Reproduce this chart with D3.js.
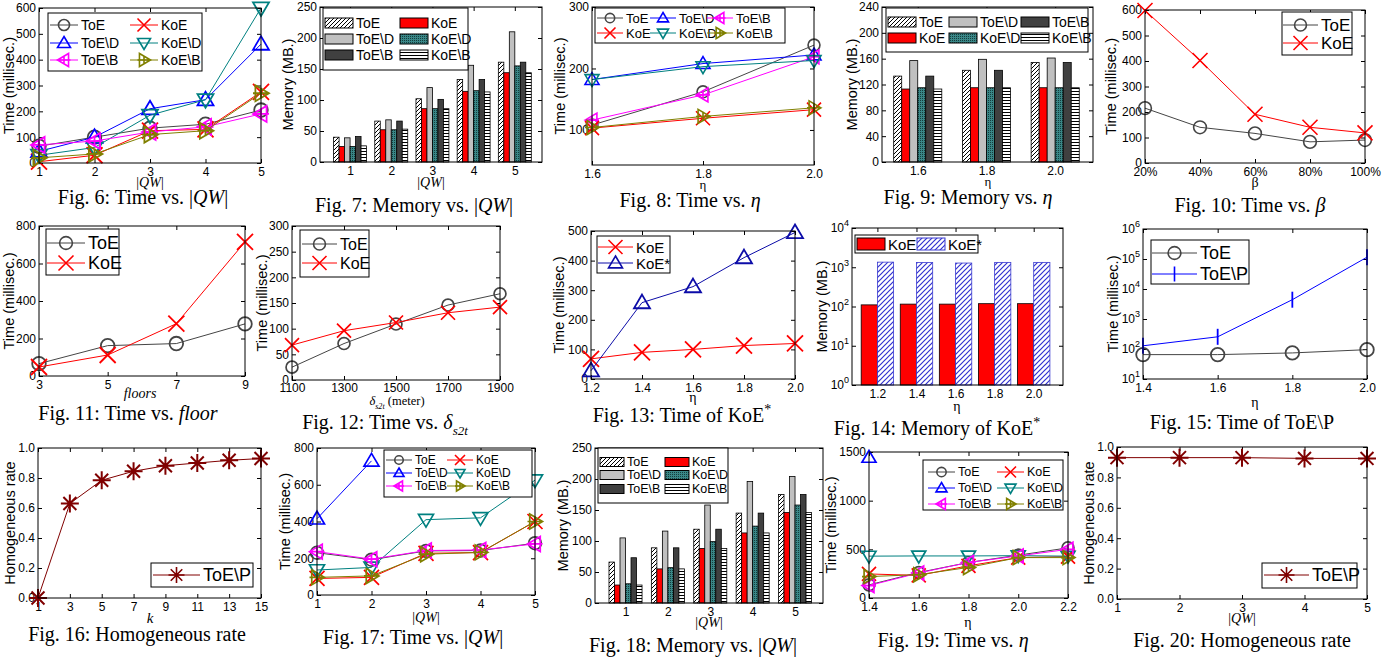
<!DOCTYPE html>
<html>
<head>
<meta charset="utf-8">
<script src="https://cdn.jsdelivr.net/npm/d3@7"></script>
<style>
  body { margin: 0; background: #fff; }
  svg { display: block; }
</style>
</head>
<body>
<script>
// ---------------- data ----------------
const qwCats = [1, 2, 3, 4, 5];
const qwLabels = ["1", "2", "3", "4", "5"];

// Fig. 6  time (ms) vs |QW|
const f6 = {
  "ToE":    [65, 100, 135, 150, 205],
  "KoE":    [5, 30, 125, 130, 275],
  "ToE\\D": [45, 100, 210, 245, 460],
  "KoE\\D": [30, 60, 185, 245, 600],
  "ToE\\B": [70, 85, 120, 140, 190],
  "KoE\\B": [20, 35, 110, 125, 270]
};
// Fig. 7  memory (MB) vs |QW|
const f7 = {
  "ToE":    [40, 66, 102, 133, 161],
  "KoE":    [25, 52, 86, 114, 144],
  "ToE\\D": [39, 68, 120, 156, 210],
  "KoE\\D": [25, 52, 86, 115, 155],
  "ToE\\B": [41, 66, 101, 133, 161],
  "KoE\\B": [26, 53, 86, 113, 144]
};
// Fig. 8  time vs eta
const etaA = [1.6, 1.8, 2.0];
const etaALabels = ["1.6", "1.8", "2.0"];
const f8 = {
  "ToE":    [108, 162, 238],
  "ToE\\D": [182, 208, 222],
  "ToE\\B": [116, 157, 219],
  "KoE":    [103, 119, 133],
  "KoE\\D": [182, 203, 213],
  "KoE\\B": [104, 122, 136]
};
// Fig. 9  memory vs eta
const f9Cats = [1, 2, 3];
const f9 = {
  "ToE":    [133, 142, 154],
  "KoE":    [113, 115, 115],
  "ToE\\D": [157, 159, 161],
  "KoE\\D": [115, 115, 115],
  "ToE\\B": [133, 142, 154],
  "KoE\\B": [113, 115, 115]
};
// Fig. 10 time vs beta
const beta = [20, 40, 60, 80, 100];
const betaLabels = ["20%", "40%", "60%", "80%", "100%"];
const f10 = {
  "ToE": [215, 140, 116, 83, 90],
  "KoE": [598, 402, 191, 140, 118]
};
// Fig. 11 time vs floors
const floors = [3, 5, 7, 9];
const f11 = {
  "ToE": [66, 162, 173, 278],
  "KoE": [48, 112, 279, 715]
};
// Fig. 12 time vs delta_s2t
const delta = [1100, 1300, 1500, 1700, 1900];
const f12 = {
  "ToE": [25, 71, 109, 146, 168],
  "KoE": [68, 96, 112, 131, 142]
};
// Fig. 13 time of KoE*
const etaB = [1.2, 1.4, 1.6, 1.8, 2.0];
const etaBLabels = ["1.2", "1.4", "1.6", "1.8", "2.0"];
const f13 = {
  "KoE":  [68, 90, 100, 113, 120],
  "KoE*": [28, 258, 312, 410, 495]
};
// Fig. 14 memory of KoE* (log)
const f14 = {
  "KoE":  [110, 115, 115, 118, 118],
  "KoE*": [1350, 1320, 1280, 1330, 1330]
};
// Fig. 15 time of ToE\P (log)
const etaC = [1.4, 1.6, 1.8, 2.0];
const etaCLabels = ["1.4", "1.6", "1.8", "2.0"];
const f15 = {
  "ToE":    [65, 65, 74, 95],
  "ToE\\P": [128, 255, 4400, 115000]
};
// Fig. 16 homogeneous rate vs k
const kVals = [1, 3, 5, 7, 9, 11, 13, 15];
const f16 = { "ToE\\P": [0, 0.63, 0.785, 0.845, 0.882, 0.9, 0.918, 0.93] };
// Fig. 17 time vs |QW|
const f17 = {
  "ToE":    [230, 192, 240, 242, 282],
  "KoE":    [90, 96, 227, 231, 400],
  "ToE\\D": [415, 730, null, null, null],
  "KoE\\D": [136, 150, 410, 420, 625],
  "ToE\\B": [236, 195, 242, 245, 278],
  "KoE\\B": [96, 104, 222, 232, 400]
};
// Fig. 18 memory vs |QW|
const f18 = {
  "ToE":    [66, 89, 119, 145, 175],
  "KoE":    [29, 55, 88, 113, 146],
  "ToE\\D": [105, 116, 158, 196, 204],
  "KoE\\D": [31, 57, 99, 124, 158],
  "ToE\\B": [73, 89, 119, 145, 175],
  "KoE\\B": [29, 55, 88, 113, 146]
};
// Fig. 19 time vs eta
const etaD = [1.4, 1.6, 1.8, 2.0, 2.2];
const etaDLabels = ["1.4", "1.6", "1.8", "2.0", "2.2"];
const f19 = {
  "ToE":    [135, 262, 365, 440, 515],
  "KoE":    [247, 232, 331, 415, 425],
  "ToE\\D": [1445, null, null, null, null],
  "KoE\\D": [430, 432, 432, 435, 430],
  "ToE\\B": [128, 257, 365, 432, 500],
  "KoE\\B": [220, 240, 314, 415, 415]
};
// Fig. 20 homogeneous rate vs |QW|
const f20 = { "ToE\\P": [0.93, 0.93, 0.93, 0.925, 0.925] };

// ---------------- drawing helpers ----------------
const SANS = "'Liberation Sans', Arial, Helvetica, sans-serif";
const SERIF = "'Liberation Serif', 'Times New Roman', serif";

const STYLE = {
  "ToE":    { color: "#454545", mark: "circle" },
  "KoE":    { color: "#ff0000", mark: "x" },
  "ToE\\D": { color: "#0000ff", mark: "triUp" },
  "KoE\\D": { color: "#008080", mark: "triDown" },
  "ToE\\B": { color: "#ff00ff", mark: "triLeft" },
  "KoE\\B": { color: "#808000", mark: "triRight" },
  "KoE*":   { color: "#0c0ca8", mark: "triUp" },
  "ToE\\P": { color: "#0000ff", mark: "vbar" }
};
const RATE_STYLE = { color: "#800000", mark: "asterisk" };

const BAR_FILL = {
  "ToE": "url(#pDiag)", "KoE": "#ff0000", "ToE\\D": "#c0c0c0",
  "KoE\\D": "url(#pTeal)", "ToE\\B": "#404040", "KoE\\B": "url(#pHoriz)",
  "KoE*": "url(#pDiagBlue)"
};

const svg = d3.select("body").append("svg").attr("width", 1396).attr("height", 660);
const defs = svg.append("defs");

function pattern(id, w, h, bg, draw) {
  const p = defs.append("pattern").attr("id", id)
    .attr("patternUnits", "userSpaceOnUse").attr("width", w).attr("height", h);
  p.append("rect").attr("width", w).attr("height", h).attr("fill", bg);
  draw(p);
}
pattern("pDiag", 4, 4, "#fff", p => p.append("path")
  .attr("d", "M-1,1L1,-1M0,4L4,0M3,5L5,3").attr("stroke", "#000").attr("stroke-width", 1));
pattern("pDiagBlue", 5, 5, "#fff", p => p.append("path")
  .attr("d", "M-1,1L1,-1M0,5L5,0M4,6L6,4").attr("stroke", "#3030d0").attr("stroke-width", 1.2));
pattern("pHoriz", 4, 3, "#fff", p => p.append("path")
  .attr("d", "M0,1.5H4").attr("stroke", "#000").attr("stroke-width", 1));
pattern("pTeal", 2, 2, "#3a8787", p => p.append("rect")
  .attr("width", 1).attr("height", 1).attr("fill", "#153d3d"));

function drawMarker(g, type, cx, cy, s, color, sw) {
  const r = s / 2;
  if (type === "circle") {
    g.append("circle").attr("cx", cx).attr("cy", cy).attr("r", r * 0.85)
      .attr("fill", "none").attr("stroke", color).attr("stroke-width", sw);
    return;
  }
  const p = d3.path();
  if (type === "x" || type === "asterisk") {
    const q = type === "x" ? r : r * 0.72;
    p.moveTo(cx - q, cy - q); p.lineTo(cx + q, cy + q);
    p.moveTo(cx - q, cy + q); p.lineTo(cx + q, cy - q);
  }
  if (type === "asterisk") {
    p.moveTo(cx - r, cy); p.lineTo(cx + r, cy);
    p.moveTo(cx, cy - r); p.lineTo(cx, cy + r);
  }
  if (type === "vbar") { p.moveTo(cx, cy - r); p.lineTo(cx, cy + r); }
  if (type === "triUp") {
    p.moveTo(cx, cy - r); p.lineTo(cx + r, cy + r * 0.7); p.lineTo(cx - r, cy + r * 0.7); p.closePath();
  }
  if (type === "triDown") {
    p.moveTo(cx, cy + r); p.lineTo(cx + r, cy - r * 0.7); p.lineTo(cx - r, cy - r * 0.7); p.closePath();
  }
  if (type === "triLeft" || type === "triRight") {
    const d = type === "triLeft" ? 1 : -1;
    p.moveTo(cx - d * r, cy); p.lineTo(cx + d * r * 0.7, cy - r); p.lineTo(cx + d * r * 0.7, cy + r); p.closePath();
    p.moveTo(cx, cy - r * 0.7); p.lineTo(cx, cy + r * 0.7);
    p.moveTo(cx - r, cy); p.lineTo(cx + r, cy);
  }
  g.append("path").attr("d", p.toString()).attr("fill", "none")
    .attr("stroke", color).attr("stroke-width", sw);
}

function axes(p) {
  const [x0, y0, x1, y1] = p.box;
  const x = d3.scaleLinear().domain(p.xDomain).range([x0, x1]);
  const y = (p.yLog ? d3.scaleLog() : d3.scaleLinear()).domain(p.yDomain).range([y1, y0]);
  const g = svg.append("g");
  const xf = d => p.xLabels[p.xTicks.indexOf(d)];
  const yf = p.yLog ? () => "" : d => p.yLabels[p.yTicks.indexOf(d)];
  g.append("g").attr("transform", `translate(0,${y1})`)
    .call(d3.axisBottom(x).tickValues(p.xTicks).tickFormat(xf).tickSize(-4).tickPadding(p.xPad || 4));
  g.append("g").attr("transform", `translate(0,${y0})`)
    .call(d3.axisTop(x).tickValues(p.xTicks).tickFormat("").tickSize(-4));
  const left = g.append("g").attr("transform", `translate(${x0},0)`)
    .call(d3.axisLeft(y).tickValues(p.yTicks).tickFormat(yf).tickSize(-4).tickPadding(3));
  g.append("g").attr("transform", `translate(${x1},0)`)
    .call(d3.axisRight(y).tickValues(p.yTicks).tickFormat("").tickSize(-4));
  g.selectAll(".domain").remove();
  g.selectAll("g").attr("font-family", SANS).attr("font-size", 12);
  g.selectAll(".tick line").attr("stroke", "#000");
  g.selectAll(".tick text").attr("fill", "#000");
  if (p.yLog) {
    left.selectAll(".tick text").each(function (d) {
      const t = d3.select(this);
      t.append("tspan").text("10");
      t.append("tspan").text(Math.round(Math.log10(d))).attr("font-size", 9).attr("dy", -6);
    });
  }
  // y label
  svg.append("text")
    .attr("transform", `translate(${p.ylabX},${(y0 + y1) / 2}) rotate(-90)`)
    .attr("text-anchor", "middle").attr("dominant-baseline", "central")
    .attr("font-family", SANS).attr("font-size", 14.5).text(p.ylab);
  return { x, y, box: p.box };
}

function frame(ax) {
  const [x0, y0, x1, y1] = ax.box;
  svg.append("rect").attr("x", x0).attr("y", y0).attr("width", x1 - x0).attr("height", y1 - y0)
    .attr("fill", "none").attr("stroke", "#000").attr("stroke-width", 1);
}

function drawSeries(ax, xs, series, ms, sw, override) {
  Object.entries(series).forEach(([name, vals]) => {
    const st = override || STYLE[name];
    const pts = vals.map((v, i) => [xs[i], v]).filter(d => d[1] != null);
    const line = d3.line().x(d => ax.x(d[0])).y(d => ax.y(d[1]));
    const g = svg.append("g");
    g.append("path").attr("d", line(pts)).attr("fill", "none")
      .attr("stroke", st.color).attr("stroke-width", 1);
    pts.forEach(d => drawMarker(g, st.mark, ax.x(d[0]), ax.y(d[1]), ms, st.color, sw));
  });
}

function drawBars(ax, cats, series, frac) {
  const names = Object.keys(series);
  const step = ax.x(cats[1]) - ax.x(cats[0]);
  const bw = step * frac / names.length;
  const base = ax.y(ax.y.domain()[0]);
  names.forEach((name, j) => {
    svg.append("g").selectAll("rect").data(series[name]).join("rect")
      .attr("x", (d, i) => ax.x(cats[i]) - step * frac / 2 + j * bw)
      .attr("y", d => ax.y(d))
      .attr("width", bw)
      .attr("height", d => base - ax.y(d))
      .attr("fill", BAR_FILL[name])
      .attr("stroke", name === "KoE*" ? "#3a3ad0" : "#000")
      .attr("stroke-width", 0.8);
  });
}

function legendBox(L) {
  const [bx, by, bw, bh] = L.box;
  const g = svg.append("g").attr("font-family", SANS);
  g.append("rect").attr("x", bx).attr("y", by).attr("width", bw).attr("height", bh)
    .attr("fill", "#fff").attr("stroke", "#000").attr("stroke-width", 1);
  L.names.forEach((name, i) => {
    const lx = bx + L.cols[i % L.cols.length];
    const ly = by + L.rows[Math.floor(i / L.cols.length)];
    if (L.bars) {
      g.append("rect").attr("x", lx).attr("y", ly - L.swH / 2).attr("width", L.w).attr("height", L.swH)
        .attr("fill", BAR_FILL[name]).attr("stroke", name === "KoE*" ? "#3a3ad0" : "#000");
    } else {
      const st = L.style || STYLE[name];
      g.append("line").attr("x1", lx).attr("x2", lx + L.w).attr("y1", ly).attr("y2", ly)
        .attr("stroke", st.color).attr("stroke-width", 1);
      drawMarker(g, st.mark, lx + L.w / 2, ly, L.ms, st.color, 1.6);
    }
    g.append("text").attr("x", lx + L.w + 3).attr("y", ly).attr("dominant-baseline", "central")
      .attr("font-size", L.fs).text(name);
  });
}

function rich(x, y, parts, fs, family) {
  const t = svg.append("text").attr("x", x).attr("y", y).attr("text-anchor", "middle")
    .attr("font-family", family).attr("font-size", fs);
  let shift = 0;
  parts.forEach(([s, f]) => {
    const ts = t.append("tspan").text(s);
    let target = 0;
    if (f.includes("i")) ts.attr("font-style", "italic");
    if (f.includes("b")) { target = fs * 0.3; ts.attr("font-size", fs * 0.65); }
    if (f.includes("p")) { target = -fs * 0.4; ts.attr("font-size", fs * 0.7); }
    if (target !== shift) { ts.attr("dy", target - shift); shift = target; }
  });
}
const QW = [["|", ""], ["QW", "i"], ["|", ""]];
const six = ["ToE", "KoE", "ToE\\D", "KoE\\D", "ToE\\B", "KoE\\B"];
const sixT = ["ToE", "ToE\\D", "ToE\\B", "KoE", "KoE\\D", "KoE\\B"];

// ---------------- Fig. 6 ----------------
let ax = axes({ box: [39, 8, 261, 163], xDomain: [1, 5], xTicks: qwCats, xLabels: qwLabels,
  yDomain: [0, 600], yTicks: [0, 100, 200, 300, 400, 500, 600], yLabels: ["0", "100", "200", "300", "400", "500", "600"],
  ylab: "Time (millisec.)", ylabX: 9 });
drawSeries(ax, qwCats, f6, 16, 1.8);
frame(ax);
legendBox({ box: [48, 13, 154, 58], names: six, cols: [2, 82], rows: [12, 30, 47], w: 28, ms: 13, fs: 14 });
rich(150, 187, QW, 14, SERIF);
rich(143, 204, [["Fig. 6: Time vs. |", ""], ["QW", "i"], ["|", ""]], 20, SERIF);

// ---------------- Fig. 7 ----------------
ax = axes({ box: [320, 7, 542, 162], xDomain: [0.27, 5.66], xTicks: qwCats, xLabels: qwLabels,
  yDomain: [0, 250], yTicks: [0, 50, 100, 150, 200, 250], yLabels: ["0", "50", "100", "150", "200", "250"],
  ylab: "Memory (MB.)", ylabX: 288 });
drawBars(ax, qwCats, f7, 0.8);
frame(ax);
legendBox({ bars: true, box: [323, 8, 145, 62], names: six, cols: [2, 77], rows: [15, 31, 47], w: 28, swH: 10, fs: 14 });
rich(431, 187, QW, 14, SERIF);
rich(414, 212, [["Fig. 7: Memory vs. |", ""], ["QW", "i"], ["|", ""]], 20, SERIF);

// ---------------- Fig. 8 ----------------
ax = axes({ box: [592, 7, 814, 165], xDomain: [1.6, 2.0], xTicks: etaA, xLabels: etaALabels,
  yDomain: [43, 300], yTicks: [100, 200, 300], yLabels: ["100", "200", "300"],
  ylab: "Time (millisec.)", ylabX: 560 });
drawSeries(ax, etaA, f8, 14, 1.6);
frame(ax);
legendBox({ box: [595, 8, 190, 35], names: sixT, cols: [2, 55, 112], rows: [10, 25], w: 26, ms: 11, fs: 13 });
rich(703, 189, [["η", ""]], 13, SERIF);
rich(690, 207, [["Fig. 8: Time vs. ", ""], ["η", "i"]], 20, SERIF);

// ---------------- Fig. 9 ----------------
ax = axes({ box: [882, 7, 1093, 162], xDomain: [0.48, 3.55], xTicks: f9Cats, xLabels: etaALabels,
  yDomain: [0, 240], yTicks: [0, 40, 80, 120, 160, 200, 240], yLabels: ["0", "40", "80", "120", "160", "200", "240"],
  ylab: "Memory (MB.)", ylabX: 852 });
drawBars(ax, f9Cats, f9, 0.7);
frame(ax);
legendBox({ bars: true, box: [886, 8, 202, 44], names: sixT, cols: [2, 63, 135], rows: [14, 30], w: 28, swH: 10, fs: 14 });
rich(988, 186, [["η", ""]], 13, SERIF);
rich(968, 204, [["Fig. 9: Memory vs. ", ""], ["η", "i"]], 20, SERIF);

// ---------------- Fig. 10 ----------------
ax = axes({ box: [1145, 10, 1365, 163], xDomain: [20, 100], xTicks: beta, xLabels: betaLabels,
  yDomain: [0, 600], yTicks: [0, 100, 200, 300, 400, 500, 600], yLabels: ["0", "100", "200", "300", "400", "500", "600"],
  ylab: "Time (millisec.)", ylabX: 1111 });
drawSeries(ax, beta, f10, 15, 1.6);
frame(ax);
legendBox({ box: [1282, 12, 70, 43], names: ["ToE", "KoE"], cols: [1], rows: [13, 31], w: 35, ms: 14, fs: 17 });
rich(1255, 187, [["β", ""]], 14, SERIF);
rich(1250, 212, [["Fig. 10: Time vs. ", ""], ["β", "i"]], 20, SERIF);

// ---------------- Fig. 11 ----------------
ax = axes({ box: [39, 226, 245, 376], xDomain: [3, 9], xTicks: floors, xLabels: ["3", "5", "7", "9"],
  yDomain: [0, 800], yTicks: [0, 200, 400, 600, 800], yLabels: ["0", "200", "400", "600", "800"],
  ylab: "Time (millisec.)", ylabX: 9 });
drawSeries(ax, floors, f11, 16, 1.8);
frame(ax);
legendBox({ box: [46, 229, 73, 46], names: ["ToE", "KoE"], cols: [1], rows: [14, 34], w: 38, ms: 15, fs: 18 });
rich(140, 398, [["floors", "i"]], 14, SERIF);
rich(128, 420, [["Fig. 11: Time vs. ", ""], ["floor", "i"]], 20, SERIF);

// ---------------- Fig. 12 ----------------
ax = axes({ box: [292, 226, 500, 380], xDomain: [1100, 1900], xTicks: delta, xLabels: delta.map(String),
  yDomain: [0, 300], yTicks: [0, 50, 100, 150, 200, 250, 300], yLabels: ["0", "50", "100", "150", "200", "250", "300"],
  ylab: "Time (millisec.)", ylabX: 262, xPad: 3 });
drawSeries(ax, delta, f12, 14, 1.7);
frame(ax);
legendBox({ box: [300, 230, 69, 47], names: ["ToE", "KoE"], cols: [2], rows: [14, 33], w: 35, ms: 14, fs: 16 });
rich(397, 405, [["δ", "i"], ["s2t", "ib"], [" (meter)", ""]], 12.5, SERIF);
rich(385, 429, [["Fig. 12: Time vs. ", ""], ["δ", "i"], ["s2t", "ib"]], 20, SERIF);

// ---------------- Fig. 13 ----------------
ax = axes({ box: [591, 231, 795, 379], xDomain: [1.2, 2.0], xTicks: etaB, xLabels: etaBLabels,
  yDomain: [0, 500], yTicks: [0, 100, 200, 300, 400, 500], yLabels: ["0", "100", "200", "300", "400", "500"],
  ylab: "Time (millisec.)", ylabX: 559 });
drawSeries(ax, etaB, f13, 16, 1.8);
frame(ax);
legendBox({ box: [597, 236, 73, 37], names: ["KoE", "KoE*"], cols: [1], rows: [11, 27], w: 35, ms: 14, fs: 15 });
rich(693, 402, [["η", ""]], 14, SERIF);
rich(682, 422, [["Fig. 13: Time of KoE", ""], ["*", "p"]], 20, SERIF);

// ---------------- Fig. 14 ----------------
ax = axes({ box: [852, 228, 1063, 385], xDomain: [1.07, 2.15], xTicks: etaB, xLabels: etaBLabels,
  yLog: true, yDomain: [1, 10000], yTicks: [1, 10, 100, 1000, 10000],
  ylab: "Memory (MB.)", ylabX: 822 });
drawBars(ax, etaB, f14, 0.83);
frame(ax);
legendBox({ bars: true, box: [855, 235, 123, 18], names: ["KoE", "KoE*"], cols: [2, 62], rows: [9], w: 28, swH: 12, fs: 15 });
rich(957, 411, [["η", ""]], 14, SERIF);
rich(937, 435, [["Fig. 14: Memory of KoE", ""], ["*", "p"]], 20, SERIF);

// ---------------- Fig. 15 ----------------
ax = axes({ box: [1143, 229, 1367, 379], xDomain: [1.4, 2.0], xTicks: etaC, xLabels: etaCLabels,
  yLog: true, yDomain: [10, 1e6], yTicks: [10, 100, 1000, 1e4, 1e5, 1e6],
  ylab: "Time (millisec.)", ylabX: 1113 });
drawSeries(ax, etaC, f15, 16, 1.8);
frame(ax);
legendBox({ box: [1151, 240, 98, 44], names: ["ToE", "ToE\\P"], cols: [1], rows: [13, 34], w: 45, ms: 15, fs: 18 });
rich(1255, 407, [["η", ""]], 14, SERIF);
rich(1242, 429, [["Fig. 15: Time of ToE\\P", ""]], 20, SERIF);

// ---------------- Fig. 16 ----------------
const rateTicks = [0, 0.2, 0.4, 0.6, 0.8, 1.0];
const rateLabels = ["0.0", "0.2", "0.4", "0.6", "0.8", "1.0"];
ax = axes({ box: [38, 448, 261, 598], xDomain: [1, 15], xTicks: kVals, xLabels: kVals.map(String),
  yDomain: [0, 1], yTicks: rateTicks, yLabels: rateLabels,
  ylab: "Homogeneous rate", ylabX: 10 });
drawSeries(ax, kVals, f16, 18, 2, RATE_STYLE);
frame(ax);
legendBox({ box: [151, 563, 102, 24], names: ["ToE\\P"], cols: [2], rows: [12], w: 47, ms: 16, fs: 18, style: RATE_STYLE });
rich(150, 623, [["k", "i"]], 15, SERIF);
rich(137, 641, [["Fig. 16: Homogeneous rate", ""]], 20, SERIF);

// ---------------- Fig. 17 ----------------
ax = axes({ box: [317, 448, 535, 595], xDomain: [1, 5], xTicks: qwCats, xLabels: qwLabels,
  yDomain: [0, 800], yTicks: [0, 200, 400, 600, 800], yLabels: ["0", "200", "400", "600", "800"],
  ylab: "Time (millisec.)", ylabX: 285 });
drawSeries(ax, qwCats, f17, 15, 1.7);
frame(ax);
legendBox({ box: [384, 450, 148, 47], names: six, cols: [2, 63], rows: [10, 23, 36], w: 26, ms: 10, fs: 12 });
rich(426, 622, QW, 14, SERIF);
rich(413, 644, [["Fig. 17: Time vs. |", ""], ["QW", "i"], ["|", ""]], 20, SERIF);

// ---------------- Fig. 18 ----------------
ax = axes({ box: [595, 448, 823, 603], xDomain: [0.28, 5.66], xTicks: qwCats, xLabels: qwLabels,
  yDomain: [0, 250], yTicks: [0, 50, 100, 150, 200, 250], yLabels: ["0", "50", "100", "150", "200", "250"],
  ylab: "Memory (MB.)", ylabX: 563 });
drawBars(ax, qwCats, f18, 0.78);
frame(ax);
legendBox({ bars: true, box: [598, 448, 130, 55], names: six, cols: [2, 67], rows: [14, 27, 41], w: 24, swH: 9, fs: 12.5 });
rich(709, 627, QW, 14, SERIF);
rich(693, 652, [["Fig. 18: Memory vs. |", ""], ["QW", "i"], ["|", ""]], 20, SERIF);

// ---------------- Fig. 19 ----------------
ax = axes({ box: [869, 452, 1068, 598], xDomain: [1.4, 2.2], xTicks: etaD, xLabels: etaDLabels,
  yDomain: [0, 1500], yTicks: [0, 500, 1000, 1500], yLabels: ["0", "500", "1000", "1500"],
  ylab: "Time (millisec.)", ylabX: 831 });
drawSeries(ax, etaD, f19, 14, 1.7);
frame(ax);
legendBox({ box: [923, 460, 140, 50], names: six, cols: [5, 74], rows: [12, 28, 44], w: 27, ms: 11, fs: 12.5 });
rich(968, 627, [["η", ""]], 14, SERIF);
rich(953, 647, [["Fig. 19: Time vs. ", ""], ["η", "i"]], 20, SERIF);

// ---------------- Fig. 20 ----------------
ax = axes({ box: [1117, 447, 1367, 599], xDomain: [1, 5], xTicks: qwCats, xLabels: qwLabels,
  yDomain: [0, 1], yTicks: rateTicks, yLabels: rateLabels,
  ylab: "Homogeneous rate", ylabX: 1089 });
drawSeries(ax, qwCats, f20, 18, 2, RATE_STYLE);
frame(ax);
legendBox({ box: [1262, 563, 95, 25], names: ["ToE\\P"], cols: [2], rows: [12], w: 45, ms: 16, fs: 18, style: RATE_STYLE });
rich(1242, 623, QW, 14, SERIF);
rich(1242, 647, [["Fig. 20: Homogeneous rate", ""]], 20, SERIF);
</script>
</body>
</html>
